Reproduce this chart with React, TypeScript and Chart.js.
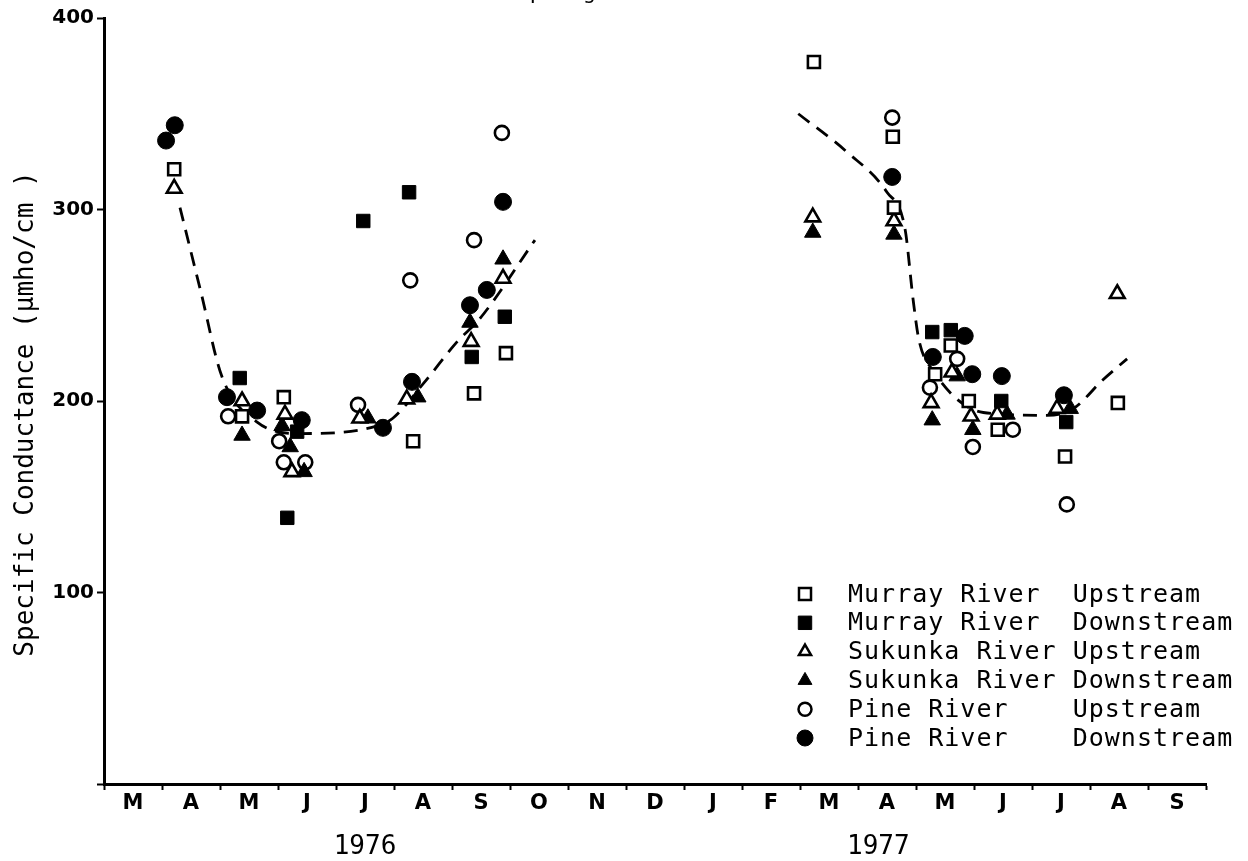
import React, { useEffect, useRef } from 'react';
import { Chart, registerables } from 'chart.js';

Chart.register(...registerables);

// ---------- axis text ----------
const monthLabels = ['M', 'A', 'M', 'J', 'J', 'A', 'S', 'O', 'N', 'D', 'J', 'F', 'M', 'A', 'M', 'J', 'J', 'A', 'S'];
const yearLabels = ['1976', '1977'];
const yearPositions = [4.5, 13.35]; // month index (0 = start of March 1976)
const yTitle = 'Specific Conductance (\u03bcmho/cm )';
const topTitle = 'Sampling S';

// ---------- data (x = months since 1 March 1976, y = umho/cm) ----------
const murrayUpX = [1.21, 2.38, 3.1, 5.33, 6.38, 6.93, 12.24, 13.6, 13.62, 14.33, 14.6, 14.91, 15.41, 16.57, 17.48];
const murrayUpY = [321, 192, 202, 179, 204, 225, 377, 338, 301, 214, 229, 200, 185, 171, 199];

const murrayDownX = [2.34, 3.33, 3.16, 4.47, 5.26, 6.34, 6.91, 14.28, 14.6, 15.47, 16.59];
const murrayDownY = [212, 184, 139, 294, 309, 223, 244, 236, 237, 200, 189];

const sukunkaUpX = [1.21, 2.38, 3.12, 3.24, 4.41, 5.22, 6.33, 6.88, 12.22, 13.62, 14.62, 14.26, 14.95, 15.4, 16.43, 17.47];
const sukunkaUpY = [311, 200, 193, 163, 191, 201, 231, 264, 296, 294, 215, 199, 192, 193, 196, 256];

const sukunkaDownX = [2.38, 3.07, 3.21, 3.45, 4.55, 5.41, 6.31, 6.88, 12.22, 13.62, 14.71, 14.28, 14.98, 15.57, 16.66];
const sukunkaDownY = [182, 187, 176, 163, 191, 202, 241, 274, 288, 287, 213, 190, 185, 193, 196];

const pineUpX = [2.14, 3.02, 3.1, 3.47, 4.38, 5.28, 6.38, 6.86, 13.59, 14.71, 14.24, 14.98, 15.67, 16.6];
const pineUpY = [192, 179, 168, 168, 198, 263, 284, 340, 348, 222, 207, 176, 185, 146];

const pineDownX = [1.07, 1.22, 2.12, 2.64, 3.41, 4.81, 5.31, 6.31, 6.6, 6.88, 13.59, 14.29, 14.84, 14.97, 15.48, 16.55];
const pineDownY = [336, 344, 202, 195, 190, 186, 210, 250, 258, 304, 317, 223, 234, 214, 213, 203];

// hand-drawn dashed trend curves
const trend1976X = [1.31, 1.67, 2.03, 2.64, 3.38, 4.71, 4.98, 5.53, 6.09, 6.48, 7.43];
const trend1976Y = [301, 257, 213, 189, 183, 187, 191, 210, 231, 243, 284];
const trend1977X = [11.97, 12.81, 13.5, 13.81, 13.95, 14.05, 14.29, 15.16, 16.26, 16.71, 17.22, 17.64];
const trend1977Y = [350, 330, 309, 290, 253, 232, 216, 194, 192.5, 196, 211, 222];

const legendLabels = [
  'Murray River  Upstream',
  'Murray River  Downstream',
  'Sukunka River Upstream',
  'Sukunka River Downstream',
  'Pine River    Upstream',
  'Pine River    Downstream',
];

const pts = (xs: number[], ys: number[]) => xs.map((x, i) => ({ x, y: ys[i] }));

function drawMarker(ctx: CanvasRenderingContext2D, style: string, filled: boolean, x: number, y: number, r: number) {
  ctx.beginPath();
  if (style === 'rect') {
    const s = r * Math.SQRT1_2;
    ctx.rect(x - s, y - s, 2 * s, 2 * s);
  } else if (style === 'triangle') {
    ctx.moveTo(x, y - r);
    ctx.lineTo(x + r * Math.sin((2 * Math.PI) / 3), y - r * Math.cos((2 * Math.PI) / 3));
    ctx.lineTo(x + r * Math.sin((4 * Math.PI) / 3), y - r * Math.cos((4 * Math.PI) / 3));
    ctx.closePath();
  } else {
    ctx.arc(x, y, r, 0, Math.PI * 2);
  }
  ctx.fillStyle = filled ? '#000' : '#fff';
  ctx.fill();
  ctx.lineWidth = filled ? 1 : 2.5;
  ctx.strokeStyle = '#000';
  ctx.stroke();
}

const decorPlugin = {
  id: 'decor',
  afterDraw(chart: any) {
    const ctx: CanvasRenderingContext2D = chart.ctx;
    const xs = chart.scales.x;
    const area = chart.chartArea;
    ctx.save();
    ctx.fillStyle = '#000';
    // year labels
    ctx.font = '26px "DejaVu Sans Mono"';
    ctx.textAlign = 'center';
    ctx.textBaseline = 'middle';
    yearLabels.forEach((t, i) => ctx.fillText(t, xs.getPixelForValue(yearPositions[i]), 847));
    // y-axis title
    ctx.save();
    ctx.translate(26, (area.top + area.bottom) / 2 + 13);
    ctx.rotate(-Math.PI / 2);
    ctx.font = '26px "DejaVu Sans Mono"';
    ctx.textAlign = 'center';
    ctx.textBaseline = 'middle';
    ctx.fillText(yTitle, 0, 0);
    ctx.restore();
    // cut-off title at the very top
    ctx.textAlign = 'left';
    ctx.textBaseline = 'alphabetic';
    ctx.font = '22px "DejaVu Sans Mono"';
    ctx.fillText(topTitle, 490, -1);
    // legend
    const styles = chart.data.datasets.slice(0, 6);
    styles.forEach((ds: any, i: number) => {
      const y = 594 + i * 28.8;
      drawMarker(ctx, ds.pointStyle, ds._filled, 805, y, ds._legendR);
      ctx.fillStyle = '#000';
      ctx.font = '25px "DejaVu Sans Mono"';
      (ctx as any).letterSpacing = '1px';
      ctx.textAlign = 'left';
      ctx.textBaseline = 'middle';
      ctx.fillText(legendLabels[i], 848, y + 1);
      (ctx as any).letterSpacing = '0px';
    });
    ctx.restore();
  },
};

function markerSet(label: string, data: any[], style: string, filled: boolean, r: number, legendR: number) {
  return {
    label,
    data,
    pointStyle: style,
    pointRadius: r,
    pointHoverRadius: r,
    pointBackgroundColor: filled ? '#000' : '#fff',
    pointBorderColor: '#000',
    pointBorderWidth: filled ? 1 : 2.6,
    showLine: false,
    _filled: filled,
    _legendR: legendR,
  };
}

function trendSet(label: string, data: any[]) {
  return {
    label,
    data,
    showLine: true,
    pointRadius: 0,
    pointHoverRadius: 0,
    borderColor: '#000',
    borderWidth: 2.8,
    borderDash: [14, 9],
    cubicInterpolationMode: 'monotone',
    fill: false,
  };
}

export default function App() {
  const ref = useRef<HTMLCanvasElement>(null);
  useEffect(() => {
    const canvas = ref.current!;
    const chart = new Chart(canvas, {
      type: 'scatter',
      data: {
        datasets: [
          markerSet(legendLabels[0], pts(murrayUpX, murrayUpY), 'rect', false, 8.5, 8.5),
          markerSet(legendLabels[1], pts(murrayDownX, murrayDownY), 'rect', true, 9.5, 9.5),
          markerSet(legendLabels[2], pts(sukunkaUpX, sukunkaUpY), 'triangle', false, 8.5, 7),
          markerSet(legendLabels[3], pts(sukunkaDownX, sukunkaDownY), 'triangle', true, 9.5, 8),
          markerSet(legendLabels[4], pts(pineUpX, pineUpY), 'circle', false, 7, 6.5),
          markerSet(legendLabels[5], pts(pineDownX, pineDownY), 'circle', true, 8.5, 8),
          trendSet('trend 1976', pts(trend1976X, trend1976Y)),
          trendSet('trend 1977', pts(trend1977X, trend1977Y)),
        ] as any,
      },
      options: {
        responsive: false,
        animation: false,
        events: [],
        layout: { padding: { top: 18, right: 42, left: 0, bottom: 0 } },
        plugins: { legend: { display: false }, tooltip: { enabled: false } },
        scales: {
          x: {
            type: 'linear',
            min: 0,
            max: 19,
            afterBuildTicks: (scale: any) => {
              const t = [];
              for (let v = 0; v <= 38; v++) t.push({ value: v / 2 });
              scale.ticks = t;
            },
            afterFit: (scale: any) => {
              scale.height = 77;
            },
            ticks: {
              autoSkip: false,
              maxRotation: 0,
              minRotation: 0,
              padding: 1,
              color: '#000',
              font: { family: '"DejaVu Sans"', weight: 'bold', size: 21 },
              callback: (v: any) => (Number.isInteger(v) ? '' : monthLabels[Math.floor(v)]),
            },
            grid: {
              drawOnChartArea: false,
              drawTicks: true,
              tickLength: 6,
              tickWidth: 2,
              tickColor: (c: any) => (c.tick && Number.isInteger(c.tick.value) ? '#000' : 'rgba(0,0,0,0)'),
            },
            border: { display: true, color: '#000', width: 3 },
          },
          y: {
            type: 'linear',
            min: 0,
            max: 400,
            afterFit: (scale: any) => {
              scale.width = 104;
            },
            ticks: {
              stepSize: 100,
              padding: 3,
              color: '#000',
              font: { family: '"DejaVu Sans"', weight: 'bold', size: 20 },
              callback: (v: any) => (v === 0 ? '' : String(v)),
            },
            grid: { drawOnChartArea: false, drawTicks: true, tickLength: 7, tickWidth: 2, tickColor: '#000' },
            border: { display: true, color: '#000', width: 3 },
            title: { display: false },
          },
        },
      } as any,
      plugins: [decorPlugin],
    });
    return () => chart.destroy();
  }, []);
  return (
    <canvas
      ref={ref}
      width={1248}
      height={861}
      style={{ position: 'absolute', left: 0, top: 0, display: 'block', background: '#fff' }}
    />
  );
}
